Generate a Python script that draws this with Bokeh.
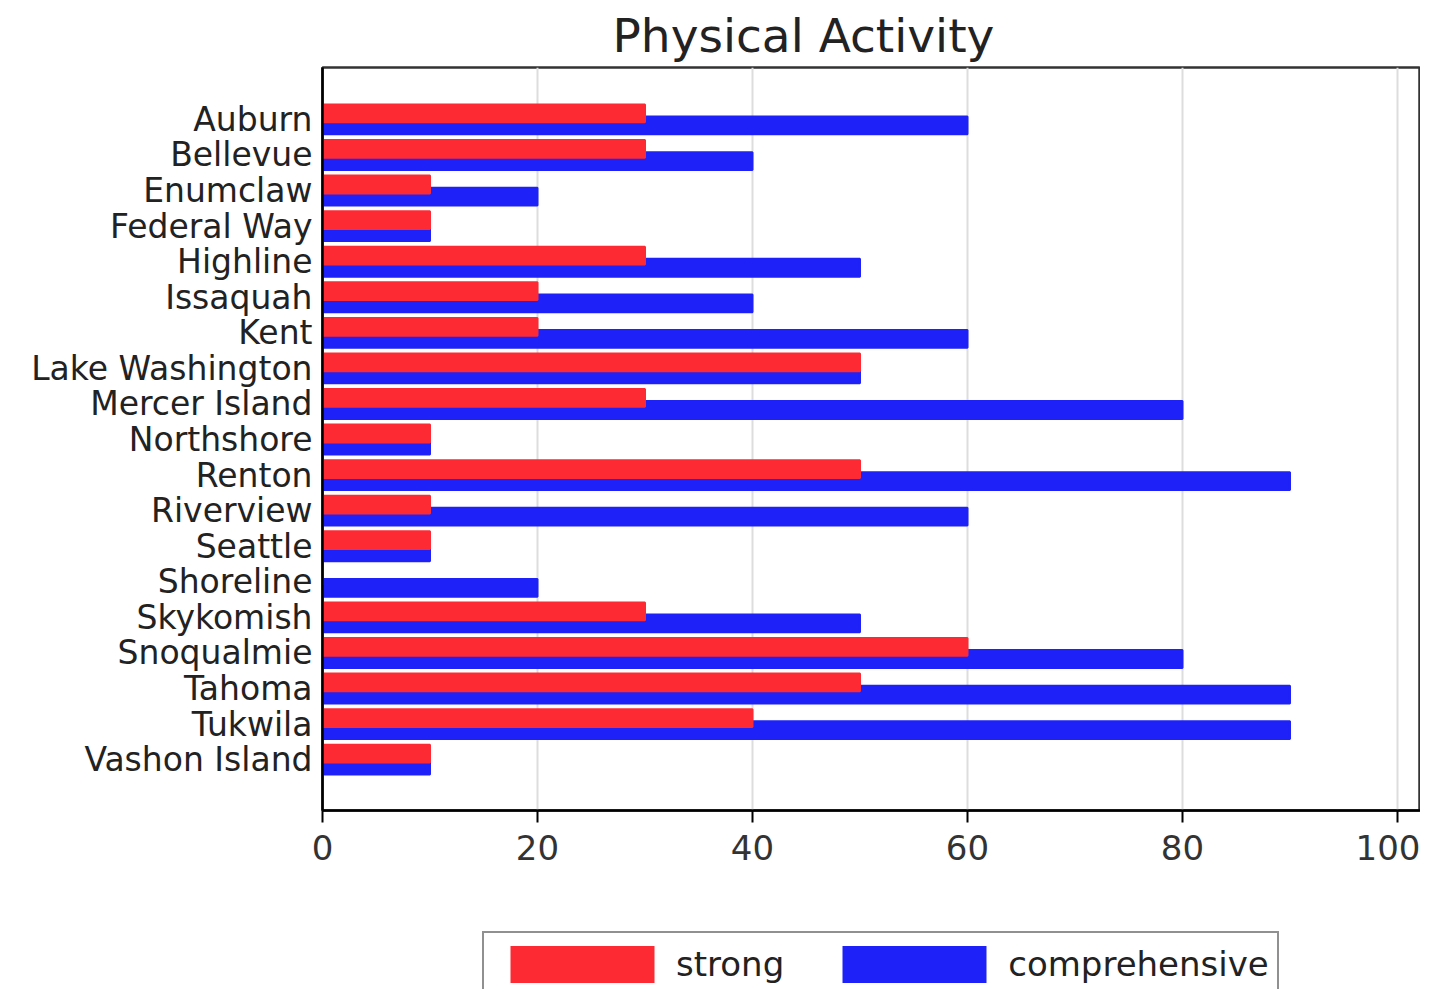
from bokeh.plotting import figure
from bokeh.models import (Range1d, FixedTicker, Legend, LegendItem, ColumnDataSource)
from bokeh.layouts import column
from bokeh.embed import file_html
from bokeh.resources import INLINE

districts = ["Auburn", "Bellevue", "Enumclaw", "Federal Way", "Highline", "Issaquah",
             "Kent", "Lake Washington", "Mercer Island", "Northshore", "Renton",
             "Riverview", "Seattle", "Shoreline", "Skykomish", "Snoqualmie",
             "Tahoma", "Tukwila", "Vashon Island"]
strong = [30, 30, 10, 10, 30, 20, 20, 50, 30, 10, 50, 10, 10, 0, 30, 60, 50, 40, 10]
comprehensive = [60, 40, 20, 10, 50, 40, 60, 50, 80, 10, 90, 60, 10, 20, 50, 80, 90, 90, 10]
x_ticks = [0, 20, 40, 60, 80, 100]

RED = "#fe2a33"
BLUE = "#1e22f8"
FONT = "DejaVu Sans"

n = len(districts)
idx = list(range(n))
src = ColumnDataSource(dict(
    pos_s=[i - 0.17 for i in idx],
    pos_c=[i + 0.17 for i in idx],
    strong=strong,
    comprehensive=comprehensive,
))

p = figure(width=1420, height=900, output_backend="svg", toolbar_location=None,
           x_range=Range1d(0, 102.14), y_range=Range1d(n - 1 + 1.43, -1.46),
           min_border_left=322, min_border_right=0, min_border_top=66,
           min_border_bottom=90, background_fill_color="white",
           border_fill_color="white")

p.hbar(y="pos_c", right="comprehensive", left=0, height=0.5, source=src,
       fill_color=BLUE, line_color=BLUE, line_width=2)
p.hbar(y="pos_s", right="strong", left=0, height=0.5, source=src,
       fill_color=RED, line_color=RED, line_width=2)

# title
p.title.text = "Physical Activity"
p.title.text_font = FONT
p.title.text_font_size = "47px"
p.title.text_font_style = "normal"
p.title.text_color = "#222222"
p.title.align = "left"
p.title.offset = 290
p.title.standoff = 10

# axes
xa = p.xaxis[0]
xa.ticker = FixedTicker(ticks=x_ticks)
xa.axis_line_color = "black"
xa.axis_line_width = 2.5
xa.major_tick_out = 12
xa.major_tick_in = 0
xa.major_tick_line_width = 2
xa.minor_tick_line_color = None
xa.major_label_text_font = FONT
xa.major_label_text_font_size = "34px"
xa.major_label_text_color = "#333333"
xa.major_label_standoff = 12

ya = p.yaxis[0]
ya.ticker = FixedTicker(ticks=idx)
ya.major_label_overrides = {i: d for i, d in enumerate(districts)}
ya.axis_line_color = "black"
ya.axis_line_width = 2.5
ya.major_tick_line_color = None
ya.minor_tick_line_color = None
ya.major_label_text_font = FONT
ya.major_label_text_font_size = "33px"
ya.major_label_text_color = "#222222"
ya.major_label_standoff = 4

p.xgrid.ticker = FixedTicker(ticks=x_ticks)
p.xgrid.grid_line_color = "#dddddd"
p.xgrid.grid_line_width = 2
p.ygrid.grid_line_color = None

p.outline_line_color = "#333333"
p.outline_line_width = 2.5

# legend strip below the chart (its own bars fall outside its view)
pl = figure(width=1420, height=89, output_backend="svg", toolbar_location=None,
            x_range=Range1d(-1000, -999), y_range=Range1d(-300, -299),
            x_axis_location=None, y_axis_location=None,
            min_border_left=322, min_border_right=0, min_border_top=0,
            min_border_bottom=0, background_fill_color="white",
            border_fill_color="white", outline_line_color=None)
pl.xgrid.grid_line_color = None
pl.ygrid.grid_line_color = None
lrs = pl.hbar(y="pos_s", right="strong", left=0, height=0.5, source=src,
              fill_color=RED, line_color=None)
lrc = pl.hbar(y="pos_c", right="comprehensive", left=0, height=0.5, source=src,
              fill_color=BLUE, line_color=None)

legend = Legend(items=[LegendItem(label="strong", renderers=[lrs]),
                       LegendItem(label="comprehensive", renderers=[lrc])],
                orientation="horizontal", location=(160, -8),
                glyph_width=180, glyph_height=46, label_standoff=4, spacing=40,
                padding=8, margin=0, label_text_font=FONT,
                label_text_font_size="34px", label_text_color="#222222",
                border_line_color="#222222", border_line_width=2.5,
                background_fill_color="white", background_fill_alpha=1)
pl.add_layout(legend, "center")

layout = column(p, pl, spacing=0)
open("out.html", "w").write(file_html(layout, INLINE))
